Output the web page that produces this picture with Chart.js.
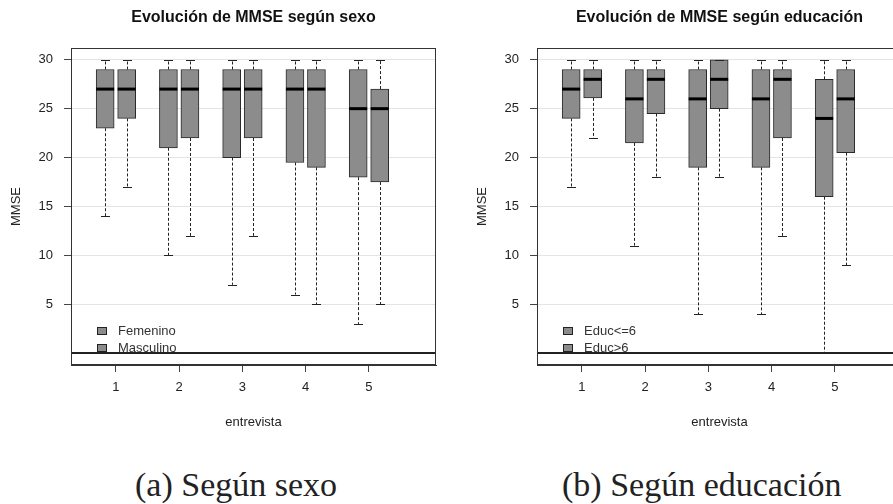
<!DOCTYPE html>
<html>
<head>
<meta charset="utf-8">
<script src="https://cdn.jsdelivr.net/npm/chart.js@4.4.0/dist/chart.umd.min.js"></script>
<style>
  html, body { margin: 0; padding: 0; background: #fff; width: 893px; height: 504px; overflow: hidden; position: relative; }
  .panel { position: absolute; top: 0; width: 446px; height: 440px; }
  #p1 { left: 0; }
  #p2 { left: 466px; }
  .cap { position: absolute; top: 468px; font-family: "Liberation Serif", serif; font-size: 34px; line-height: 34px; color: #222; white-space: nowrap; }
  #capA { left: 135px; }
  #capB { left: 562px; }
</style>
</head>
<body>
<div class="panel" id="p1"><canvas id="sexoChart" width="446" height="440"></canvas></div>
<div class="panel" id="p2"><canvas id="educChart" width="446" height="440"></canvas></div>
<div class="cap" id="capA">(a) Según sexo</div>
<div class="cap" id="capB">(b) Según educación</div>

<script>
  // entrevistas y marcas del eje
  const entrevistas = [1, 2, 3, 4, 5];
  const yTicks = [5, 10, 15, 20, 25, 30];

  // MMSE por sexo: bigote inf, Q1, mediana, Q3, bigote sup
  const femMin = [14, 10, 7, 6, 3];
  const femQ1  = [23, 21, 20, 19.5, 18];
  const femMed = [27, 27, 27, 27, 25];
  const femQ3  = [29, 29, 29, 29, 29];
  const femMax = [30, 30, 30, 30, 30];

  const mascMin = [17, 12, 12, 5, 5];
  const mascQ1  = [24, 22, 22, 19, 17.5];
  const mascMed = [27, 27, 27, 27, 25];
  const mascQ3  = [29, 29, 29, 29, 27];
  const mascMax = [30, 30, 30, 30, 30];

  // MMSE por educación
  const bajaMin = [17, 11, 4, 4, 0];
  const bajaQ1  = [24, 21.5, 19, 19, 16];
  const bajaMed = [27, 26, 26, 26, 24];
  const bajaQ3  = [29, 29, 29, 29, 28];
  const bajaMax = [30, 30, 30, 30, 30];

  const altaMin = [22, 18, 18, 12, 9];
  const altaQ1  = [26.1, 24.5, 25, 22, 20.5];
  const altaMed = [28, 28, 28, 28, 26];
  const altaQ3  = [29, 29, 30, 29, 29];
  const altaMax = [30, 30, 30, 30, 30];

  const FONT = '"Liberation Sans", Arial, sans-serif';
  const BOX_FILL = '#8c8c8c';

  function boxData(q1, q3, shift) {
    return entrevistas.map((e, i) => ({ x: e + shift, y: [q1[i], q3[i]] }));
  }

  function boxSet(label, q1, q3, lo, med, hi, shift) {
    return {
      label: label,
      data: boxData(q1, q3, shift),
      lo: lo, med: med, hi: hi,
      backgroundColor: BOX_FILL,
      borderColor: '#2a2a2a',
      borderWidth: 1,
      borderSkipped: false,
      barThickness: 18,
      grouped: false
    };
  }

  // bigotes, medianas, linea del cero, marco, titulo y leyenda
  const boxplotPlugin = {
    id: 'boxplot',
    afterDatasetsDraw(chart, args, opts) {
      const { ctx, chartArea: area } = chart;
      const y = chart.scales.y;
      const line = (x1, y1, x2, y2) => { ctx.beginPath(); ctx.moveTo(x1, y1); ctx.lineTo(x2, y2); ctx.stroke(); };
      ctx.save();

      const y0 = Math.round(y.getPixelForValue(0));
      ctx.strokeStyle = '#222';
      ctx.lineWidth = 2;
      line(area.left, y0, area.right, y0);

      chart.data.datasets.forEach((ds, d) => {
        const meta = chart.getDatasetMeta(d);
        meta.data.forEach((bar, i) => {
          const cx = Math.round(bar.x) + 0.5;
          const half = bar.width / 2;
          const q1 = ds.data[i].y[0], q3 = ds.data[i].y[1];
          ctx.strokeStyle = '#222';
          ctx.lineWidth = 1;
          ctx.setLineDash([3, 2]);
          if (ds.hi[i] > q3) line(cx, y.getPixelForValue(q3), cx, y.getPixelForValue(ds.hi[i]));
          if (ds.lo[i] < q1) line(cx, y.getPixelForValue(q1), cx, y.getPixelForValue(ds.lo[i]));
          ctx.setLineDash([]);
          const yHi = Math.round(y.getPixelForValue(ds.hi[i])) + 0.5;
          const yLo = Math.round(y.getPixelForValue(ds.lo[i])) + 0.5;
          line(cx - half / 2, yHi, cx + half / 2, yHi);
          line(cx - half / 2, yLo, cx + half / 2, yLo);
          ctx.strokeStyle = '#000';
          ctx.lineWidth = 3;
          const ym = y.getPixelForValue(ds.med[i]);
          line(bar.x - half, ym, bar.x + half, ym);
        });
      });

      ctx.strokeStyle = '#333';
      ctx.lineWidth = 1;
      ctx.strokeRect(area.left + 0.5, area.top + 0.5, area.width - 1, area.height - 1);

      ctx.fillStyle = '#111';
      ctx.font = 'bold 16px ' + FONT;
      ctx.textAlign = 'center';
      ctx.textBaseline = 'middle';
      ctx.fillText(opts.title, (area.left + area.right) / 2, 18);

      // leyenda abajo a la izquierda
      ctx.font = '13px ' + FONT;
      ctx.textAlign = 'left';
      chart.data.datasets.forEach((ds, d) => {
        const ly = area.bottom - 34 + d * 17;
        ctx.fillStyle = ds.backgroundColor;
        ctx.fillRect(area.left + 26, ly - 4, 10, 8);
        ctx.strokeStyle = '#222';
        ctx.strokeRect(area.left + 26.5, ly - 3.5, 9, 7);
        ctx.fillStyle = '#333';
        ctx.fillText(ds.label, area.left + 47, ly);
      });
      ctx.restore();
    }
  };

  function makeOptions(title) {
    return {
      responsive: false,
      animation: false,
      events: [],
      layout: { padding: { left: 0, right: 10, top: 48, bottom: 0 } },
      plugins: {
        legend: { display: false },
        tooltip: { enabled: false },
        boxplot: { title: title }
      },
      scales: {
        x: {
          type: 'linear',
          min: 0.29,
          max: 6.06,
          offset: false,
          afterBuildTicks: (s) => { s.ticks = entrevistas.map(v => ({ value: v })); },
          afterFit: (s) => { s.height = 75; },
          grid: { offset: false, drawOnChartArea: false, tickLength: 7, tickColor: '#444' },
          border: { color: '#333' },
          ticks: { color: '#222', font: { family: FONT, size: 13 }, padding: 8 },
          title: { display: true, text: 'entrevista', color: '#222', font: { family: FONT, size: 13 }, padding: { top: 0, bottom: 10 } }
        },
        y: {
          min: -1.2,
          max: 31.2,
          afterBuildTicks: (s) => { s.ticks = yTicks.map(v => ({ value: v })); },
          afterFit: (s) => { s.width = 71; },
          grid: { color: '#e4e4e4', tickLength: 7, tickColor: '#444' },
          border: { color: '#333' },
          ticks: { color: '#222', font: { family: FONT, size: 13 }, padding: 11 },
          title: { display: true, text: 'MMSE', color: '#222', font: { family: FONT, size: 13 }, padding: { top: 9, bottom: 0 } }
        }
      }
    };
  }

  new Chart(document.getElementById('sexoChart'), {
    type: 'bar',
    data: {
      datasets: [
        boxSet('Femenino', femQ1, femQ3, femMin, femMed, femMax, -0.17),
        boxSet('Masculino', mascQ1, mascQ3, mascMin, mascMed, mascMax, 0.17)
      ]
    },
    options: makeOptions('Evolución de MMSE según sexo'),
    plugins: [boxplotPlugin]
  });

  new Chart(document.getElementById('educChart'), {
    type: 'bar',
    data: {
      datasets: [
        boxSet('Educ<=6', bajaQ1, bajaQ3, bajaMin, bajaMed, bajaMax, -0.17),
        boxSet('Educ>6', altaQ1, altaQ3, altaMin, altaMed, altaMax, 0.17)
      ]
    },
    options: makeOptions('Evolución de MMSE según educación'),
    plugins: [boxplotPlugin]
  });
</script>
</body>
</html>
